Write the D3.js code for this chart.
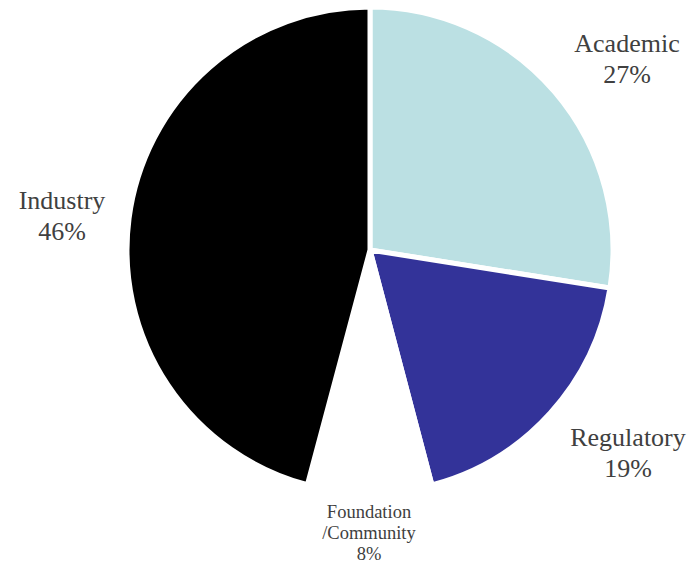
<!DOCTYPE html>
<html><head><meta charset="utf-8">
<script src="https://cdn.jsdelivr.net/npm/d3@7"></script>
<style>html,body{margin:0;padding:0;background:#fff;}svg{display:block;}
text{font-family:"Liberation Serif","Tinos","Times New Roman",Times,serif;}</style>
</head><body>
<svg id="chart" width="697" height="562"></svg>
<script>
const categories = ["Academic", "Regulatory", "Foundation\n/Community", "Industry"];
const values = [27.5, 18.4, 8.25, 45.85];
const pctLabels = ["27%", "19%", "8%", "46%"];
const colors = ["#BBE0E3", "#333399", "#FFFFFF", "#000000"];

const W = 697, H = 562;
const cx = 370, cy = 250, R = 243;
// label layout: [x, first-line baseline, font size, line height]
const labelLayout = [
  [627, 52, 26, 31],
  [628, 446, 26, 31],
  [369, 517.5, 18.5, 21],
  [62, 209, 26, 31]
];

const svg = d3.select("#chart");
const g = svg.append("g").attr("transform", `translate(${cx},${cy})`);

const pie = d3.pie().sort(null).value(d => d.v);
const data = categories.map((c, i) => ({c, v: values[i], i}));
const arcs = pie(data);
const arc = d3.arc().innerRadius(0).outerRadius(R);

g.selectAll("path").data(arcs).join("path")
  .attr("d", arc)
  .attr("fill", d => colors[d.data.i])
  .attr("stroke", "#fff")
  .attr("stroke-width", 5)
  .attr("stroke-linejoin", "miter");

arcs.forEach((a, i) => {
  const [x, y, fs, lh] = labelLayout[i];
  const lines = categories[i].split("\n").concat([pctLabels[i]]);
  const t = svg.append("text")
    .attr("text-anchor", "middle")
    .attr("font-size", fs)
    .attr("fill", "#404040");
  lines.forEach((ln, k) => {
    t.append("tspan").attr("x", x).attr("y", y + k * lh).text(ln);
  });
});
</script>
</body></html>
